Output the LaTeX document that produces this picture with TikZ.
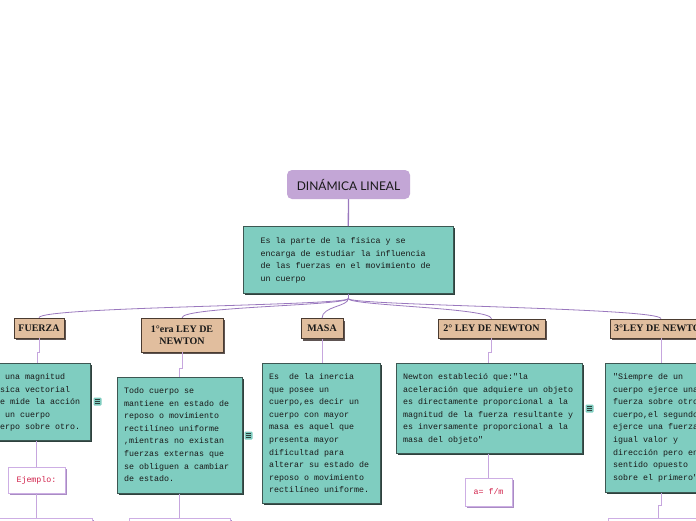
\documentclass[tikz,border=0pt]{standalone}
\usepackage{fontspec}
\setmainfont{Liberation Serif}
\newfontfamily\monof{Liberation Mono}
\newfontfamily\titlef{Lato}
\usetikzlibrary{shadows,calc}
\definecolor{tealfill}{HTML}{7FCDC0}
\definecolor{tealedge}{HTML}{3D5752}
\definecolor{tealshadow}{HTML}{2E413D}
\definecolor{tanfill}{HTML}{E1BE9E}
\definecolor{tanedge}{HTML}{4A3B30}
\definecolor{tanshadow}{HTML}{5E5452}
\definecolor{lavfill}{HTML}{C3A6D6}
\definecolor{lavedge}{HTML}{CDAEE4}
\definecolor{lavshadow}{HTML}{A98CC4}
\definecolor{mainline}{HTML}{9A78BE}
\definecolor{subline}{HTML}{C6A6DE}
\definecolor{crim}{HTML}{D2234C}
\newcommand\dtxt[2]{\parbox[t]{#1pt}{\raggedright\monof\fontsize{8.33}{12.6}\selectfont #2}}
\tikzset{
  titlebox/.style={fill=lavfill, rounded corners=5pt, inner sep=0pt,
    minimum width=123pt, minimum height=29pt,
    font=\titlef\fontsize{12}{14}\selectfont, text=black!90},
  tealbox/.style={fill=tealfill, draw=tealedge, line width=0.6pt, inner sep=0pt,
    drop shadow={shadow xshift=2pt, shadow yshift=-2pt, fill=tealshadow, opacity=1}},
  catbox/.style={fill=tanfill, draw=tanedge, line width=0.6pt, inner sep=0pt,
    align=center, text=black!90, font=\bfseries\fontsize{10}{12.5}\selectfont,
    drop shadow={shadow xshift=2pt, shadow yshift=-2pt, fill=tanshadow, opacity=1}},
  whitebox/.style={fill=white, draw=lavedge, line width=0.9pt, inner sep=0pt,
    text=crim, font=\monof\fontsize{8.33}{10}\selectfont,
    drop shadow={shadow xshift=1.6pt, shadow yshift=-1.6pt, fill=lavshadow, opacity=1}},
  txtnode/.style={anchor=base west, inner sep=0pt, text=black!90},
  iconbox/.style={fill=tealfill, rounded corners=1pt, minimum size=8pt, inner sep=0pt,
    path picture={
      \foreach \yy in {-2,0,2}
        \draw[tealshadow, line width=0.8pt]
          ([xshift=-2.4pt, yshift=\yy pt]path picture bounding box.center) -- ++(4.8pt,0pt);
    }},
  mainconn/.style={draw=mainline, line width=1.3pt},
  fanconn/.style={draw=mainline, line width=0.8pt},
  subconn/.style={draw=subline, line width=0.9pt},
}
\begin{document}
\begin{tikzpicture}[x=1pt,y=-1pt]
\useasboundingbox (0,0) rectangle (696,520);
\fill[white] (0,0) rectangle (696,520);

% title and main description
\node[titlebox] (title) at (348.5,184.5) {DINÁMICA LINEAL};
\node[tealbox, minimum width=210pt, minimum height=67pt, anchor=north west] (main) at (243,226) {};
\node[txtnode] (maint) at (260.5,243.5) {\dtxt{200}{Es la parte de la física y se\\encarga de estudiar la influencia\\de las fuerzas en el movimiento de\\un cuerpo}};
\draw[mainconn] (title.south) -- (main.north);

% categories
\node[catbox, minimum width=50pt, minimum height=20pt] (fz) at (39,328) {FUERZA};
\node[catbox, minimum width=82pt, minimum height=34pt] (ley1) at (182,335) {1°era LEY DE\\NEWTON};
\node[catbox, minimum width=42pt, minimum height=20pt] (masa) at (322,328.5) {MASA};
\node[catbox, minimum width=107pt, minimum height=19pt] (ley2) at (491.5,328.5) {2° LEY DE NEWTON};
\node[catbox, minimum width=102pt, minimum height=19pt] (ley3) at (661,328.5) {3°LEY DE NEWTON};

% fan connectors
\draw[fanconn] (main.south) -- ++(0,5) coordinate (hub);
\draw[fanconn] (hub) .. controls +(0,7) and +(0,-11) .. (fz.north);
\draw[fanconn] (hub) .. controls +(0,7) and +(0,-11) .. (ley1.north);
\draw[fanconn] (hub) .. controls +(0,8) and +(0,-12) .. (masa.north);
\draw[fanconn] (hub) .. controls +(0,7) and +(0,-11) .. (ley2.north);
\draw[fanconn] (hub) .. controls +(0,7) and +(0,-11) .. (ley3.north);

% descriptions
\node[tealbox, minimum width=130pt, minimum height=77pt, anchor=north west] (fzd) at (-40,363) {};
\node[txtnode] (fzt) at (-10,379.5) {\dtxt{140}{Es una magnitud\\física vectorial\\que mide la acción\\de un cuerpo\\cuerpo sobre otro.}};
\node[tealbox, minimum width=125pt, minimum height=116pt, anchor=north west] (ley1d) at (117,377) {};
\node[txtnode] (ley1t) at (124,393.5) {\dtxt{115}{Todo cuerpo se\\mantiene en estado de\\reposo o movimiento\\rectilíneo uniforme\\,mientras no existan\\fuerzas externas que\\se obliguen a cambiar\\de estado.}};
\node[tealbox, minimum width=118pt, minimum height=140pt, anchor=north west] (masad) at (262,363) {};
\node[txtnode] (masat) at (269,379.5) {\dtxt{110}{Es\ \ de la inercia\\que posee un\\cuerpo,es decir un\\cuerpo con mayor\\masa es aquel que\\presenta mayor\\dificultad para\\alterar su estado de\\reposo o movimiento\\rectilíneo uniforme.}};
\node[tealbox, minimum width=186pt, minimum height=90pt, anchor=north west] (ley2d) at (396,363) {};
\node[txtnode] (ley2t) at (403,379.5) {\dtxt{178}{Newton estableció que:"la\\aceleración que adquiere un objeto\\es directamente proporcional a la\\magnitud de la fuerza resultante y\\es inversamente proporcional a la\\masa del objeto"}};
\node[tealbox, minimum width=120pt, minimum height=129pt, anchor=north west] (ley3d) at (605,363) {};
\node[txtnode] (ley3t) at (613,379.5) {\dtxt{110}{"Siempre de un\\cuerpo ejerce una\\fuerza sobre otro\\cuerpo,el segundo\\ejerce una fuerza\\igual valor y\\dirección pero en\\sentido opuesto\\sobre el primero"}};

% category -> description connectors
\draw[subconn] (fz.south) -- ++(0,14) -| ([xshift=-2pt]fz.south |- fzd.north);
\draw[subconn] (ley1.south) -- ++(0,16) -| ([xshift=-3pt]ley1.south |- ley1d.north);
\draw[subconn] (masa.south) -- (masa.south |- masad.north);
\draw[subconn] (ley2.south) -- ++(0,14) -| ([xshift=-3pt]ley2.south |- ley2d.north);
\draw[subconn] (ley3.south) -- (ley3.south |- ley3d.north);

% note icons
\node[iconbox] (ic1) at (97.5,401.5) {};
\node[iconbox] (ic2) at (248.5,435.5) {};
\node[iconbox] (ic3) at (589.5,408.5) {};

% sub nodes
\node[whitebox, minimum width=57pt, minimum height=26pt] (ej) at (36.5,480) {Ejemplo:};
\draw[subconn] (fzd.south -| ej.north) -- (ej.north);
\node[whitebox, minimum width=47pt, minimum height=28pt] (afm) at (488.5,492) {a= f/m};
\draw[subconn] (ley2d.south -| afm.north) -- (afm.north);

\node[whitebox, minimum width=132pt, minimum height=30pt, anchor=north west] (fzb) at (-40,518) {};
\draw[subconn] (ej.south) -- (ej.south |- fzb.north);
\node[whitebox, minimum width=101pt, minimum height=30pt, anchor=north west] (ley1b) at (129,518) {};
\draw[subconn] (ley1d.south) -- (ley1d.south |- ley1b.north);
\node[whitebox, minimum width=120pt, minimum height=30pt, anchor=north west] (ley3b) at (608,518) {};
\draw[subconn] (ley3d.south -| ley3.south) -- ++(0,13) -| ([xshift=-3pt]ley3.south |- ley3b.north);
\end{tikzpicture}
\end{document}
